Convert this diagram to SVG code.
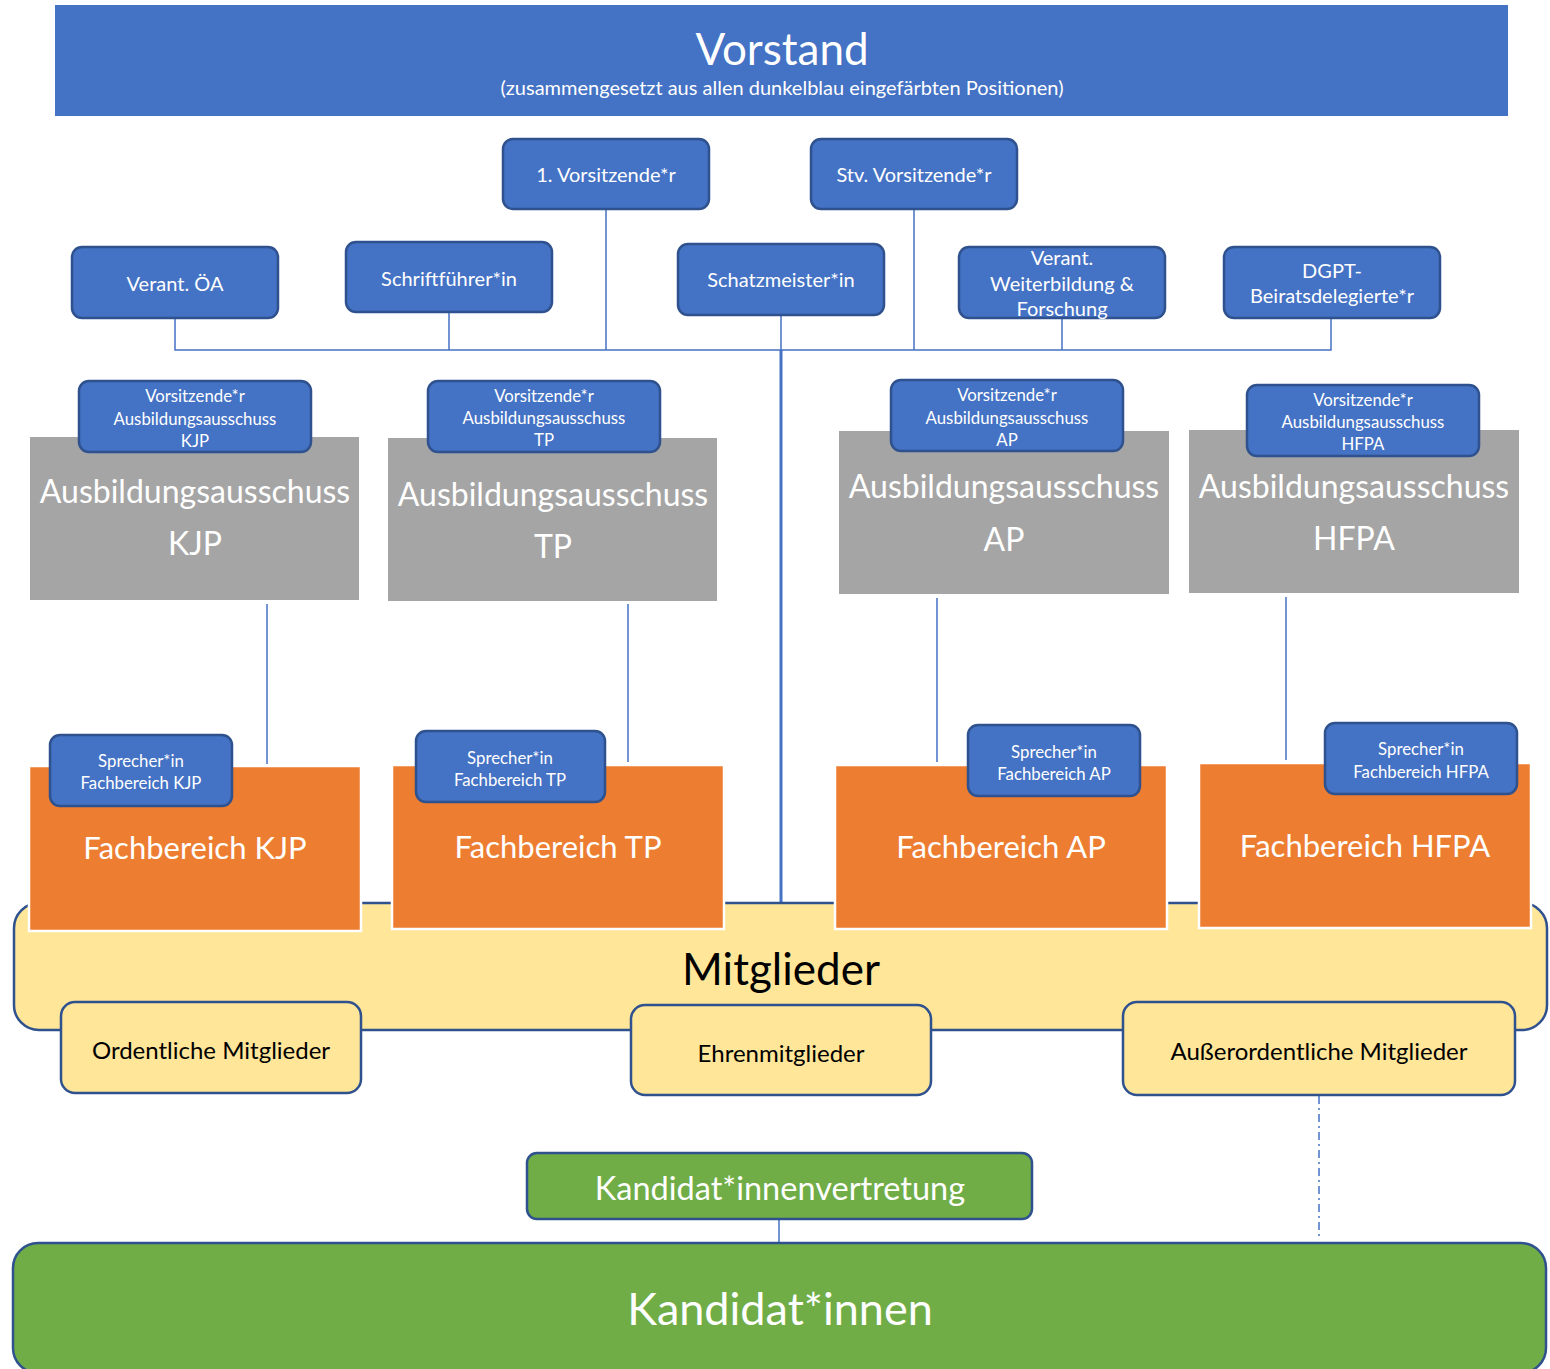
<svg xmlns="http://www.w3.org/2000/svg" width="1550" height="1369" viewBox="0 0 1550 1369">
<style>
text{font-family:Lato,"Liberation Sans",sans-serif;text-anchor:middle;dominant-baseline:central}
.w{fill:#fff}
.k{fill:#000}
.blue{fill:#4472C4;stroke:#2F528F;stroke-width:2.5}
.gray{fill:#A5A5A5}
.org{fill:#ED7D31;stroke:#fff;stroke-width:2.5}
.yel{fill:#FFE699;stroke:#2F528F;stroke-width:2.5}
.grn{fill:#70AD47;stroke:#2F528F;stroke-width:2.5}
.ln{stroke:#4472C4;stroke-width:1.5;fill:none}
.s1{font-size:20px}
.s2{font-size:16.8px}
.s3{font-size:32px}
.s4{font-size:31px}
.s5{font-size:24px}
</style>
<g id="vorstand">
<rect x="55" y="5" width="1453" height="111" fill="#4472C4"/>
<text class="w" x="782" y="48" font-size="44">Vorstand</text>
<text class="w" x="782" y="87" font-size="20">(zusammengesetzt aus allen dunkelblau eingefärbten Positionen)</text>
</g>
<g id="connectors">
<path class="ln" d="M175 318V350H1331V318M449 312V350M606 209V350M781 315V350M914 209V350M1062 318V350"/>
<path d="M781 350V903" stroke="#4472C4" stroke-width="3"/>
<path class="ln" d="M267 604V764M628 604V762M937 598V762M1286 597V760M779 1219V1243"/>
<path d="M1319 1096V1240" stroke="#4472C4" stroke-width="1.5" stroke-dasharray="8 4 2 4"/>
</g>
<g id="vors1"><rect class="blue" x="503" y="139" width="206" height="70" rx="10"/><text class="w s1" x="606" y="174">1. Vorsitzende*r</text></g>
<g id="stvvors"><rect class="blue" x="811" y="139" width="206" height="70" rx="10"/><text class="w s1" x="914" y="174">Stv. Vorsitzende*r</text></g>
<g id="oea"><rect class="blue" x="72" y="247" width="206" height="71" rx="10"/><text class="w s1" x="175" y="283">Verant. ÖA</text></g>
<g id="schrift"><rect class="blue" x="346" y="242" width="206" height="70" rx="10"/><text class="w s1" x="449" y="278">Schriftführer*in</text></g>
<g id="schatz"><rect class="blue" x="678" y="244" width="206" height="71" rx="10"/><text class="w s1" x="781" y="279">Schatzmeister*in</text></g>
<g id="weiter"><rect class="blue" x="959" y="247" width="206" height="71" rx="10"/><text class="w s1" x="1062" y="257">Verant.</text><text class="w s1" x="1062" y="283">Weiterbildung &amp;</text><text class="w s1" x="1062" y="308">Forschung</text></g>
<g id="dgpt"><rect class="blue" x="1224" y="247" width="216" height="71" rx="10"/><text class="w s1" x="1332" y="270">DGPT-</text><text class="w s1" x="1332" y="295">Beiratsdelegierte*r</text></g>

<g id="aa-kjp"><rect class="gray" x="30" y="437" width="329" height="163"/><text class="w s3" x="195" y="490">Ausbildungsausschuss</text><text class="w s3" x="195" y="542">KJP</text></g>
<g id="aa-tp"><rect class="gray" x="388" y="438" width="329" height="163"/><text class="w s3" x="553" y="493">Ausbildungsausschuss</text><text class="w s3" x="553" y="545">TP</text></g>
<g id="aa-ap"><rect class="gray" x="839" y="431" width="330" height="163"/><text class="w s3" x="1004" y="485">Ausbildungsausschuss</text><text class="w s3" x="1004" y="538">AP</text></g>
<g id="aa-hfpa"><rect class="gray" x="1189" y="430" width="330" height="163"/><text class="w s3" x="1354" y="485">Ausbildungsausschuss</text><text class="w s3" x="1354" y="537">HFPA</text></g>

<g id="v-kjp"><rect class="blue" x="79" y="381" width="232" height="71" rx="10"/><text class="w s2" x="195" y="395">Vorsitzende*r</text><text class="w s2" x="195" y="418">Ausbildungsausschuss</text><text class="w s2" x="195" y="440">KJP</text></g>
<g id="v-tp"><rect class="blue" x="428" y="381" width="232" height="71" rx="10"/><text class="w s2" x="544" y="395">Vorsitzende*r</text><text class="w s2" x="544" y="417">Ausbildungsausschuss</text><text class="w s2" x="544" y="439">TP</text></g>
<g id="v-ap"><rect class="blue" x="891" y="380" width="232" height="71" rx="10"/><text class="w s2" x="1007" y="394">Vorsitzende*r</text><text class="w s2" x="1007" y="417">Ausbildungsausschuss</text><text class="w s2" x="1007" y="439">AP</text></g>
<g id="v-hfpa"><rect class="blue" x="1247" y="385" width="232" height="71" rx="10"/><text class="w s2" x="1363" y="399">Vorsitzende*r</text><text class="w s2" x="1363" y="421">Ausbildungsausschuss</text><text class="w s2" x="1363" y="443">HFPA</text></g>

<g id="mitglieder"><rect class="yel" x="14" y="903" width="1533" height="127" rx="25" stroke-width="3"/><text class="k" x="781" y="968" font-size="44">Mitglieder</text></g>

<g id="fb-kjp"><rect class="org" x="29" y="766" width="332" height="165"/><text class="w s4" x="195" y="847">Fachbereich KJP</text></g>
<g id="fb-tp"><rect class="org" x="392" y="765" width="332" height="164"/><text class="w s4" x="558" y="846">Fachbereich TP</text></g>
<g id="fb-ap"><rect class="org" x="835" y="765" width="332" height="164"/><text class="w s4" x="1001" y="846">Fachbereich AP</text></g>
<g id="fb-hfpa"><rect class="org" x="1199" y="763" width="332" height="165"/><text class="w s4" x="1365" y="845">Fachbereich HFPA</text></g>

<g id="sp-kjp"><rect class="blue" x="50" y="735" width="182" height="71" rx="10"/><text class="w s2" x="141" y="760">Sprecher*in</text><text class="w s2" x="141" y="782">Fachbereich KJP</text></g>
<g id="sp-tp"><rect class="blue" x="416" y="731" width="189" height="71" rx="10"/><text class="w s2" x="510" y="757">Sprecher*in</text><text class="w s2" x="510" y="779">Fachbereich TP</text></g>
<g id="sp-ap"><rect class="blue" x="968" y="725" width="172" height="71" rx="10"/><text class="w s2" x="1054" y="751">Sprecher*in</text><text class="w s2" x="1054" y="773">Fachbereich AP</text></g>
<g id="sp-hfpa"><rect class="blue" x="1325" y="723" width="192" height="71" rx="10"/><text class="w s2" x="1421" y="748">Sprecher*in</text><text class="w s2" x="1421" y="771">Fachbereich HFPA</text></g>

<g id="ordentlich"><rect class="yel" x="61" y="1002" width="300" height="91" rx="14"/><text class="k s5" x="211" y="1049">Ordentliche Mitglieder</text></g>
<g id="ehren"><rect class="yel" x="631" y="1005" width="300" height="90" rx="14"/><text class="k s5" x="781" y="1052">Ehrenmitglieder</text></g>
<g id="ausserordentlich"><rect class="yel" x="1123" y="1002" width="392" height="93" rx="14"/><text class="k s5" x="1319" y="1050">Außerordentliche Mitglieder</text></g>

<g id="kvertretung"><rect class="grn" x="527" y="1153" width="505" height="66" rx="10"/><text class="w" x="780" y="1187" font-size="32.5">Kandidat*innenvertretung</text></g>
<g id="kandidaten"><rect class="grn" x="13" y="1243" width="1533" height="130" rx="25" stroke-width="3"/><text class="w" x="780" y="1308" font-size="45">Kandidat*innen</text></g>
</svg>
